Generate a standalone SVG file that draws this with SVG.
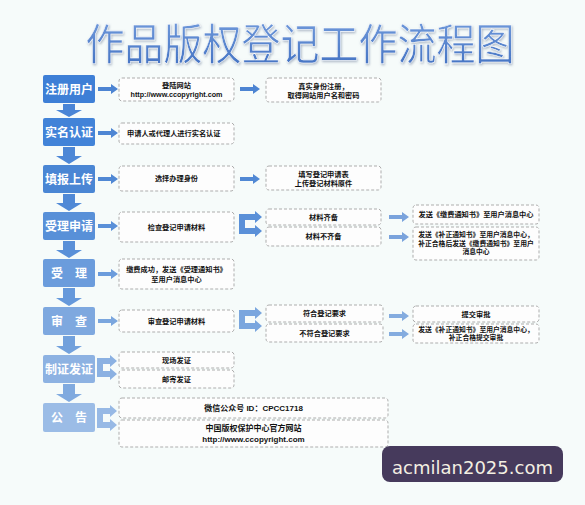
<svg xmlns="http://www.w3.org/2000/svg" width="585" height="505" viewBox="0 0 585 505">
<defs>
<linearGradient id="tg" x1="0" y1="0" x2="0" y2="1">
<stop offset="0" stop-color="#7aa2e0"/>
<stop offset="1" stop-color="#3e6ec0"/>
</linearGradient>
<filter id="glow" x="-10%" y="-20%" width="120%" height="140%">
<feDropShadow dx="0.8" dy="1.2" stdDeviation="0.8" flood-color="#6f819c" flood-opacity="0.55"/>
</filter>
</defs>
<style>
.lb{stroke:none}
.lt{font-family:"Noto Sans CJK SC","Liberation Sans",sans-serif;font-size:12px;font-weight:bold;fill:#fff;text-anchor:middle}
.db{fill:#fdfdfd;stroke:#adadad;stroke-width:1;stroke-dasharray:3 2}
.dt{font-family:"Liberation Sans","Noto Sans CJK SC",sans-serif;font-size:7.2px;font-weight:bold;fill:#111;text-anchor:middle}
.ar{stroke:none}
</style>
<rect width="585" height="505" fill="#f6fbfa"/>
<text transform="translate(300,60) scale(1,1.12)" font-family="Noto Sans CJK SC, sans-serif" font-size="39" font-weight="400" text-anchor="middle" fill="url(#tg)" stroke="#ffffff" stroke-width="0.5" filter="url(#glow)">作品版权登记工作流程图</text>

<g id="connectors">
<path class="ar" fill="#4a85d6" d="M63,104 H75 V110 H82 L69,117 L56,110 H63 Z"/>
<path class="ar" fill="#4d87d6" d="M63,147 H75 V156 H82 L69,164 L56,156 H63 Z"/>
<path class="ar" fill="#5089d6" d="M63,194 H75 V203 H82 L69,211 L56,203 H63 Z"/>
<path class="ar" fill="#5a90d8" d="M63,241 H75 V250 H82 L69,258 L56,250 H63 Z"/>
<path class="ar" fill="#6699db" d="M63,288 H75 V298 H82 L69,306 L56,298 H63 Z"/>
<path class="ar" fill="#72a1dc" d="M63,336 H75 V346 H82 L69,354 L56,346 H63 Z"/>
<path class="ar" fill="#80aadf" d="M63,384 H75 V394 H82 L69,402 L56,394 H63 Z"/>
<path class="ar" fill="#4c84d2" d="M98,87 H111 V84 L118,89 L111,94 V91 H98 Z"/>
<path class="ar" fill="#4c84d2" d="M240,87 H253 V84 L260,89 L253,94 V91 H240 Z"/>
<path class="ar" fill="#4e86d3" d="M98,131 H111 V128 L118,133 L111,138 V135 H98 Z"/>
<path class="ar" fill="#5088d4" d="M98,177 H111 V174 L118,179 L111,184 V181 H98 Z"/>
<path class="ar" fill="#5088d4" d="M240,177 H253 V174 L260,179 L253,184 V181 H240 Z"/>
<path class="ar" fill="#5a90d8" d="M98,224 H111 V221 L118,226 L111,231 V228 H98 Z"/>
<path class="ar" fill="#5a90d8" d="M239,214 H255 V211 L262,217 L255,223 V220 H245 V228 H255 V225 L262,231 L255,237 V234 H239 Z"/>
<path class="ar" fill="#7aa3dc" d="M389,215 H402 V212 L409,217 L402,222 V219 H389 Z"/>
<path class="ar" fill="#7aa3dc" d="M389,235 H402 V232 L409,237 L402,242 V239 H389 Z"/>
<path class="ar" fill="#6b9cdc" d="M98,272 H111 V269 L118,274 L111,279 V276 H98 Z"/>
<path class="ar" fill="#7aa6de" d="M98,319 H111 V316 L118,321 L111,326 V323 H98 Z"/>
<path class="ar" fill="#7aa6de" d="M239,310 H255 V307 L262,313 L255,319 V316 H245 V323 H255 V320 L262,326 L255,332 V329 H239 Z"/>
<path class="ar" fill="#84acdf" d="M389,314 H402 V311 L409,316 L402,321 V318 H389 Z"/>
<path class="ar" fill="#84acdf" d="M389,332 H402 V329 L409,334 L402,339 V336 H389 Z"/>
<path class="ar" fill="#8bb1e2" d="M97,358 H110 V355 L117,361 L110,367 V364 H103 V371 H110 V368 L117,374 L110,380 V377 H97 Z"/>
<path class="ar" fill="#97b9e5" d="M97,408 H110 V405 L117,411 L110,417 V414 H103 V422 H110 V419 L117,425 L110,431 V428 H97 Z"/>
</g>

<g id="n1"><rect class="lb" x="43" y="75" width="52" height="28" rx="2" fill="#3e7fd6"/><text class="lt" x="69" y="93.5">注册用户</text></g>
<g id="n2"><rect class="lb" x="43" y="118" width="52" height="28" rx="2" fill="#4283d8"/><text class="lt" x="69" y="136.5">实名认证</text></g>
<g id="n3"><rect class="lb" x="43" y="165" width="52" height="28" rx="2" fill="#4a86d4"/><text class="lt" x="69" y="183.5">填报上传</text></g>
<g id="n4"><rect class="lb" x="43" y="212" width="52" height="28" rx="2" fill="#5890d8"/><text class="lt" x="69" y="230.5">受理申请</text></g>
<g id="n5"><rect class="lb" x="43" y="259" width="52" height="28" rx="2" fill="#6b9cdc"/><text class="lt" x="69" y="277.5">受　理</text></g>
<g id="n6"><rect class="lb" x="43" y="307" width="52" height="28" rx="2" fill="#7ea8df"/><text class="lt" x="69" y="325.5">审　查</text></g>
<g id="n7"><rect class="lb" x="43" y="355" width="52" height="28" rx="2" fill="#8db2e2"/><text class="lt" x="69" y="373.5">制证发证</text></g>
<g id="n8"><rect class="lb" x="43" y="403" width="52" height="29" rx="2" fill="#9bbce6"/><text class="lt" x="69" y="422">公　告</text></g>

<g id="b1a"><rect class="db" x="119" y="78" width="115" height="23" rx="3"/><text class="dt" x="176.5" y="88">登陆网站</text><text class="dt" x="176.5" y="97">http://www.ccopyright.com</text></g>
<g id="b1b"><rect class="db" x="266" y="78" width="115" height="24" rx="3"/><text class="dt" x="323.5" y="88.5">真实身份注册，</text><text class="dt" x="323.5" y="97.5">取得网站用户名和密码</text></g>
<g id="b2"><rect class="db" x="119" y="123" width="115" height="21" rx="3"/><text class="dt" x="127" y="136" style="text-anchor:start">申请人或代理人进行实名认证</text></g>
<g id="b3a"><rect class="db" x="119" y="166" width="115" height="25" rx="3"/><text class="dt" x="176.5" y="181">选择办理身份</text></g>
<g id="b3b"><rect class="db" x="266" y="166" width="115" height="24" rx="3"/><text class="dt" x="323.5" y="176.5">填写登记申请表</text><text class="dt" x="323.5" y="185.5">上传登记材料原件</text></g>
<g id="b4a"><rect class="db" x="119" y="212" width="115" height="30" rx="3"/><text class="dt" x="176.5" y="229.5">检查登记申请材料</text></g>
<g id="b4b"><rect class="db" x="266" y="209" width="115" height="16" rx="3"/><text class="dt" x="323.5" y="219.5">材料齐备</text></g>
<g id="b4c"><rect class="db" x="266" y="227" width="115" height="19" rx="3"/><text class="dt" x="323.5" y="239">材料不齐备</text></g>
<g id="b4d"><rect class="db" x="413" y="205" width="126" height="19" rx="3"/><text class="dt" x="476" y="217">发送《缴费通知书》至用户消息中心</text></g>
<g id="b4e"><rect class="db" x="413" y="227" width="126" height="33" rx="3"/><text class="dt" x="476" y="237" style="font-size:6.8px">发送《补正通知书》至用户消息中心，</text><text class="dt" x="476" y="245.5" style="font-size:6.8px">补正合格后发送《缴费通知书》至用户</text><text class="dt" x="476" y="254" style="font-size:6.8px">消息中心</text></g>
<g id="b5"><rect class="db" x="119" y="259" width="115" height="30" rx="3"/><text class="dt" x="176.5" y="271.5">缴费成功，发送《受理通知书》</text><text class="dt" x="176.5" y="281.5">至用户消息中心</text></g>
<g id="b6a"><rect class="db" x="119" y="310" width="115" height="22" rx="3"/><text class="dt" x="176.5" y="323.5">审查登记申请材料</text></g>
<g id="b6b"><rect class="db" x="266" y="305" width="117" height="17" rx="3"/><text class="dt" x="324.5" y="316">符合登记要求</text></g>
<g id="b6c"><rect class="db" x="266" y="324" width="117" height="18" rx="3"/><text class="dt" x="324.5" y="335.5">不符合登记要求</text></g>
<g id="b6d"><rect class="db" x="413" y="306" width="126" height="16" rx="3"/><text class="dt" x="476" y="317">提交审批</text></g>
<g id="b6e"><rect class="db" x="413" y="324" width="126" height="19" rx="3"/><text class="dt" x="476" y="331.5" style="font-size:6.8px">发送《补正通知书》至用户消息中心，</text><text class="dt" x="476" y="339.5" style="font-size:6.8px">补正合格提交审批</text></g>
<g id="b7a"><rect class="db" x="119" y="352" width="115" height="16" rx="3"/><text class="dt" x="176.5" y="363">现场发证</text></g>
<g id="b7b"><rect class="db" x="119" y="370" width="115" height="18" rx="3"/><text class="dt" x="176.5" y="381.5">邮寄发证</text></g>
<g id="b8a"><rect class="db" x="119" y="398" width="269" height="20" rx="3"/><text class="dt" x="253.5" y="411" style="font-size:8px">微信公众号 ID：CPCC1718</text></g>
<g id="b8b"><rect class="db" x="119" y="420" width="269" height="27" rx="3"/><text class="dt" x="253.5" y="431" style="font-size:8px">中国版权保护中心官方网站</text><text class="dt" x="253.5" y="441.5" style="font-size:8px">http://www.ccopyright.com</text></g>

<g id="watermark"><rect x="382" y="446" width="181" height="36" rx="8" fill="#463a5c"/><text x="472.5" y="474" font-family="DejaVu Sans, sans-serif" font-size="18" fill="#f3efe2" text-anchor="middle">acmilan2025.com</text></g>
</svg>
